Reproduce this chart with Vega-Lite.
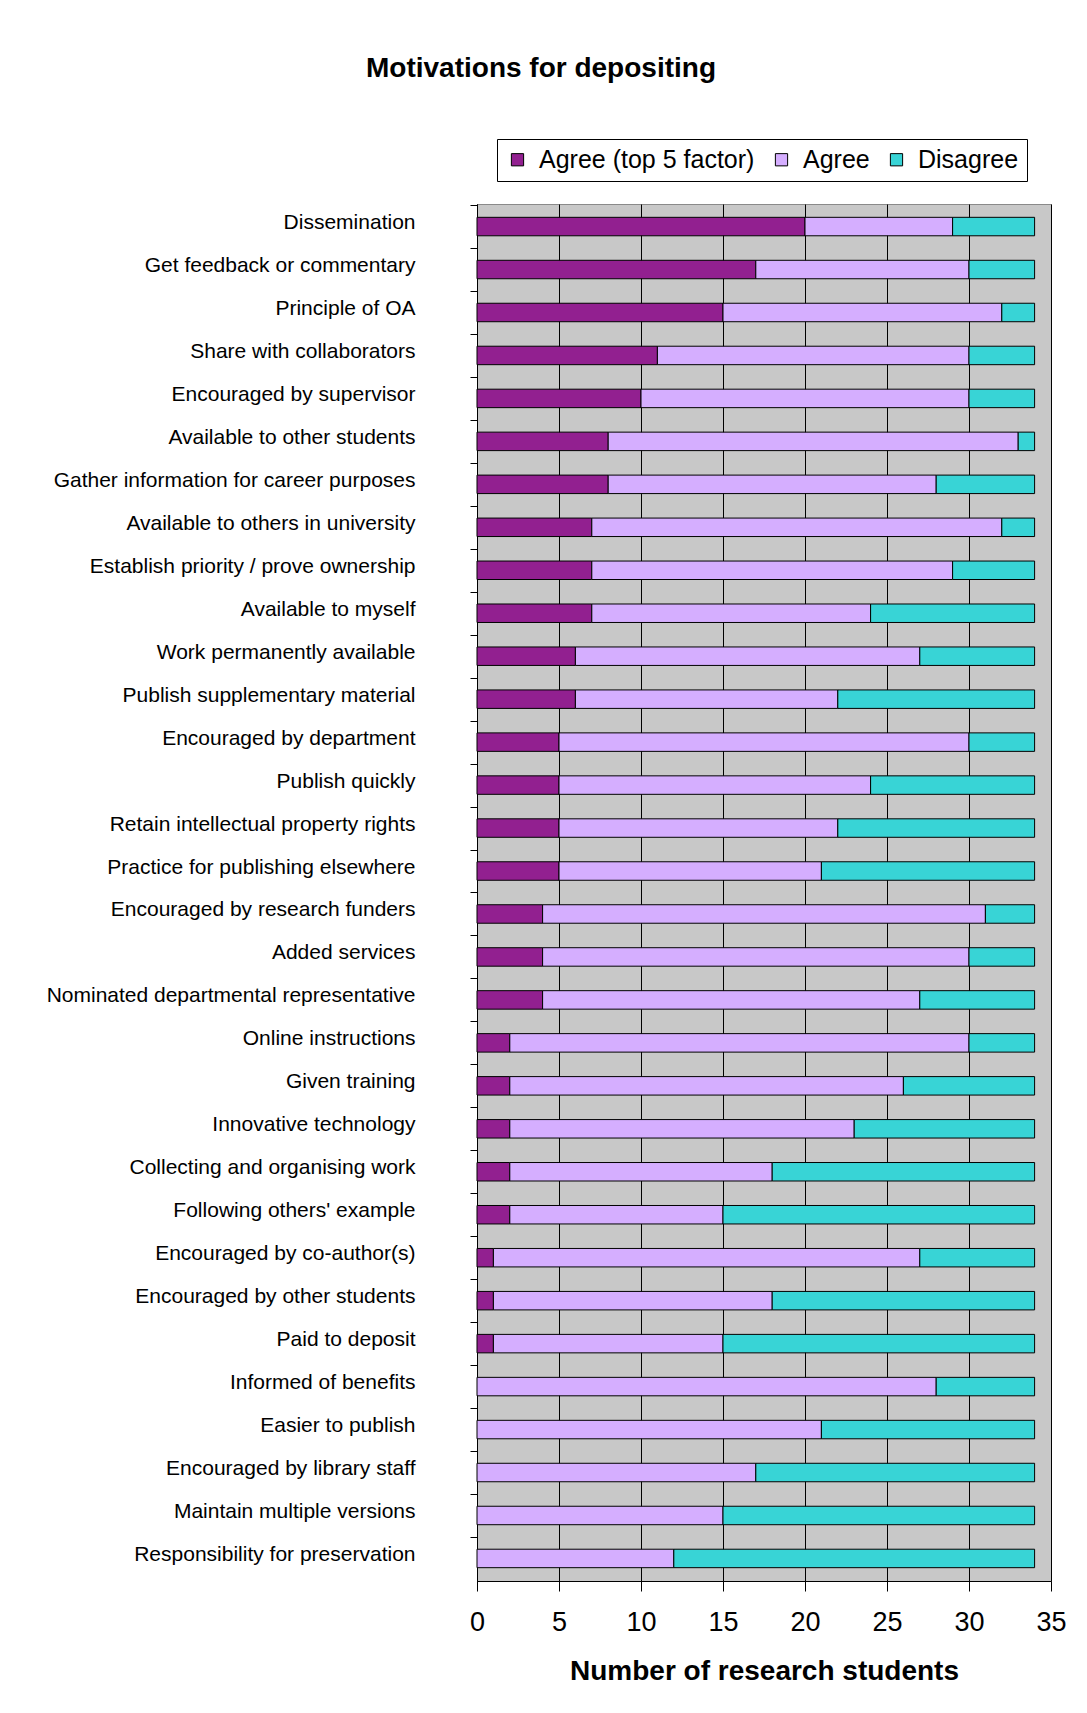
{
  "$schema": "https://vega.github.io/schema/vega-lite/v6.json",
  "width": 574,
  "height": 1377,
  "autosize": {"type": "none"},
  "padding": {"left": 477, "top": 204, "right": 36, "bottom": 132},
  "background": "white",
  "title": {
    "text": "Motivations for depositing",
    "font": "Liberation Sans",
    "fontSize": 28,
    "fontWeight": "bold",
    "color": "black",
    "frame": "group",
    "anchor": "middle",
    "dx": -223,
    "offset": 56
  },
  "data": {
    "values": [
      {"m": "Dissemination", "Agree (top 5 factor)": 20, "Agree": 9, "Disagree": 5},
      {"m": "Get feedback or commentary", "Agree (top 5 factor)": 17, "Agree": 13, "Disagree": 4},
      {"m": "Principle of OA", "Agree (top 5 factor)": 15, "Agree": 17, "Disagree": 2},
      {"m": "Share with collaborators", "Agree (top 5 factor)": 11, "Agree": 19, "Disagree": 4},
      {"m": "Encouraged by supervisor", "Agree (top 5 factor)": 10, "Agree": 20, "Disagree": 4},
      {"m": "Available to other students", "Agree (top 5 factor)": 8, "Agree": 25, "Disagree": 1},
      {"m": "Gather information for career purposes", "Agree (top 5 factor)": 8, "Agree": 20, "Disagree": 6},
      {"m": "Available to others in university", "Agree (top 5 factor)": 7, "Agree": 25, "Disagree": 2},
      {"m": "Establish priority / prove ownership", "Agree (top 5 factor)": 7, "Agree": 22, "Disagree": 5},
      {"m": "Available to myself", "Agree (top 5 factor)": 7, "Agree": 17, "Disagree": 10},
      {"m": "Work permanently available", "Agree (top 5 factor)": 6, "Agree": 21, "Disagree": 7},
      {"m": "Publish supplementary material", "Agree (top 5 factor)": 6, "Agree": 16, "Disagree": 12},
      {"m": "Encouraged by department", "Agree (top 5 factor)": 5, "Agree": 25, "Disagree": 4},
      {"m": "Publish quickly", "Agree (top 5 factor)": 5, "Agree": 19, "Disagree": 10},
      {"m": "Retain intellectual property rights", "Agree (top 5 factor)": 5, "Agree": 17, "Disagree": 12},
      {"m": "Practice for publishing elsewhere", "Agree (top 5 factor)": 5, "Agree": 16, "Disagree": 13},
      {"m": "Encouraged by research funders", "Agree (top 5 factor)": 4, "Agree": 27, "Disagree": 3},
      {"m": "Added services", "Agree (top 5 factor)": 4, "Agree": 26, "Disagree": 4},
      {"m": "Nominated departmental representative", "Agree (top 5 factor)": 4, "Agree": 23, "Disagree": 7},
      {"m": "Online instructions", "Agree (top 5 factor)": 2, "Agree": 28, "Disagree": 4},
      {"m": "Given training", "Agree (top 5 factor)": 2, "Agree": 24, "Disagree": 8},
      {"m": "Innovative technology", "Agree (top 5 factor)": 2, "Agree": 21, "Disagree": 11},
      {"m": "Collecting and organising work", "Agree (top 5 factor)": 2, "Agree": 16, "Disagree": 16},
      {"m": "Following others' example", "Agree (top 5 factor)": 2, "Agree": 13, "Disagree": 19},
      {"m": "Encouraged by co-author(s)", "Agree (top 5 factor)": 1, "Agree": 26, "Disagree": 7},
      {"m": "Encouraged by other students", "Agree (top 5 factor)": 1, "Agree": 17, "Disagree": 16},
      {"m": "Paid to deposit", "Agree (top 5 factor)": 1, "Agree": 14, "Disagree": 19},
      {"m": "Informed of benefits", "Agree (top 5 factor)": 0, "Agree": 28, "Disagree": 6},
      {"m": "Easier to publish", "Agree (top 5 factor)": 0, "Agree": 21, "Disagree": 13},
      {"m": "Encouraged by library staff", "Agree (top 5 factor)": 0, "Agree": 17, "Disagree": 17},
      {"m": "Maintain multiple versions", "Agree (top 5 factor)": 0, "Agree": 15, "Disagree": 19},
      {"m": "Responsibility for preservation", "Agree (top 5 factor)": 0, "Agree": 12, "Disagree": 22}
    ]
  },
  "transform": [
    {"fold": ["Agree (top 5 factor)", "Agree", "Disagree"], "as": ["response", "count"]},
    {"filter": "datum.count > 0"},
    {"calculate": "indexof(['Agree (top 5 factor)','Agree','Disagree'], datum.response)", "as": "ord"}
  ],
  "mark": {"type": "bar", "stroke": "black", "strokeWidth": 1},
  "encoding": {
    "y": {
      "field": "m",
      "type": "nominal",
      "sort": null,
      "scale": {"paddingInner": 0.57, "paddingOuter": 0.31},
      "axis": {
        "title": null,
        "labelFont": "Liberation Sans",
        "labelFontSize": 21,
        "labelColor": "black",
        "labelPadding": 55,
        "labelLimit": 600,
        "tickSize": 7,
        "tickColor": "black",
        "tickOffset": -21.5,
        "labelOffset": 17.5,
        "domainColor": "black",
        "grid": false
      }
    },
    "x": {
      "field": "count",
      "type": "quantitative",
      "stack": "zero",
      "scale": {"domain": [0, 35], "nice": false},
      "axis": {
        "title": "Number of research students",
        "titleFont": "Liberation Sans",
        "titleFontSize": 28,
        "titleFontWeight": "bold",
        "titleColor": "black",
        "titlePadding": 22,
        "labelFont": "Liberation Sans",
        "labelFontSize": 27,
        "labelColor": "black",
        "labelPadding": 18,
        "labelFlush": false,
        "values": [0, 5, 10, 15, 20, 25, 30, 35],
        "tickSize": 10,
        "tickColor": "black",
        "domainColor": "black",
        "grid": true,
        "gridColor": "black",
        "gridOpacity": 1,
        "gridWidth": 1
      }
    },
    "color": {
      "field": "response",
      "type": "nominal",
      "scale": {
        "domain": ["Agree (top 5 factor)", "Agree", "Disagree"],
        "range": ["#922090", "#D5AEFF", "#38D4D6"]
      },
      "legend": {
        "title": null,
        "orient": "none",
        "legendX": 20,
        "legendY": -65,
        "direction": "horizontal",
        "strokeColor": "black",
        "fillColor": "white",
        "padding": 8,
        "labelFont": "Liberation Sans",
        "labelFontSize": 25,
        "labelColor": "black",
        "labelOffset": 9,
        "labelLimit": 500,
        "columnPadding": 14,
        "symbolType": "square",
        "symbolSize": 150,
        "symbolStrokeColor": "black",
        "symbolStrokeWidth": 1,
        "symbolOpacity": 1
      }
    },
    "order": {"field": "ord"}
  },
  "config": {
    "view": {"fill": "#C8C8C8", "stroke": "#8a8a8a"}
  }
}
